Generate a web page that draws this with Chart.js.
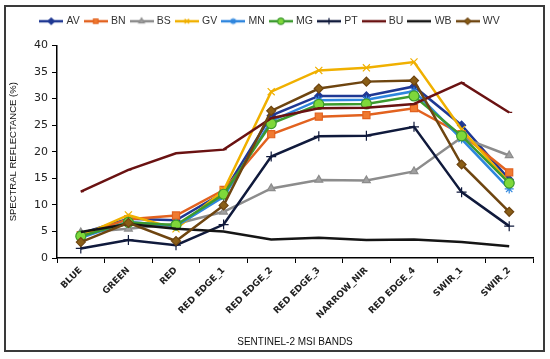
<!DOCTYPE html>
<html>
<head>
<meta charset="utf-8">
<script src="https://cdn.jsdelivr.net/npm/chart.js@4/dist/chart.umd.min.js"></script>
<style>
  body { margin: 0; background: #fff; }
  #wrap { position: relative; width: 550px; height: 359px; }
  #frame { position: absolute; left: 4px; top: 5px; width: 541px; height: 347px;
           border: 2px solid #3a3a3a; box-sizing: border-box; pointer-events: none; }
  canvas { position: absolute; left: 0; top: 0; }
</style>
</head>
<body>
<div id="wrap">
  <canvas id="spec-chart" width="550" height="359"></canvas>
  <div id="frame"></div>
</div>
<script>
let bands = ['BLUE', 'GREEN', 'RED', 'RED EDGE_1', 'RED EDGE_2', 'RED EDGE_3',
             'NARROW_NIR', 'RED EDGE_4', 'SWIR_1', 'SWIR_2'];

let av = [4.6, 7.4, 7.1, 12.3, 26.8, 30.5, 30.5, 32.3, 25.0, 14.8];
let bn = [4.3, 7.3, 8.0, 12.8, 23.3, 26.6, 26.9, 28.2, 23.3, 16.1];
let bs = [4.8, 5.5, 6.4, 8.7, 13.1, 14.7, 14.6, 16.3, 22.7, 19.3];
let gv = [4.1, 8.1, 5.5, 12.7, 31.3, 35.3, 35.8, 36.9, 24.2, 14.2];
let mn = [3.8, 6.8, 6.0, 11.5, 25.8, 29.7, 29.8, 31.4, 22.4, 13.0];
let mg = [4.1, 6.7, 6.2, 12.0, 25.3, 28.9, 29.0, 30.5, 23.0, 14.1];
let pt = [1.8, 3.4, 2.4, 6.3, 19.1, 22.9, 23.0, 24.7, 12.4, 6.0];
let bu = [12.5, 16.6, 19.7, 20.4, 26.3, 28.2, 28.3, 29.0, 33.0, 27.4];
let wb = [4.9, 6.4, 5.5, 5.0, 3.5, 3.8, 3.4, 3.5, 3.0, 2.2];
let wv = [3.0, 6.6, 3.2, 9.9, 27.7, 31.9, 33.2, 33.4, 17.6, 8.7];

let seriesNames = ['AV', 'BN', 'BS', 'GV', 'MN', 'MG', 'PT', 'BU', 'WB', 'WV'];
let seriesValues = [av, bn, bs, gv, mn, mg, pt, bu, wb, wv];
let lineColours = ['#1f3893', '#e2621f', '#8c8c8c', '#f0b000', '#2e86de', '#3c9a2e',
                   '#101a3c', '#6a1212', '#151515', '#6e4510'];
let fillColours = ['#1f3893', '#f07a30', '#a0a0a0', '#f0b000', '#2e86de', '#7ed83a',
                   '#101a3c', '#6a1212', '#151515', '#8a5e16'];
let markers = ['rectRot', 'rect', 'triangle', 'crossRot', 'star', 'circle',
               'cross', 'dash', false, 'rectRot'];
let markerSizes = [4, 5, 4.5, 5, 4.5, 5, 5, 3, 0, 4.5];

// little line+marker swatch for the legend, like excel
function swatch(i) {
  const c = document.createElement('canvas');
  c.width = 24; c.height = 12;
  const ctx = c.getContext('2d');
  ctx.strokeStyle = lineColours[i];
  ctx.lineWidth = 2.5;
  ctx.beginPath(); ctx.moveTo(0, 6); ctx.lineTo(24, 6); ctx.stroke();
  if (markers[i]) {
    ctx.fillStyle = fillColours[i];
    ctx.lineWidth = 1.2;
    Chart.helpers.drawPoint(ctx, {pointStyle: markers[i], radius: 3.2, rotation: 0, borderWidth: 1.2}, 12, 6);
  }
  return c;
}

let datasets = seriesNames.map((name, i) => ({
  label: name,
  data: seriesValues[i],
  borderColor: lineColours[i],
  backgroundColor: fillColours[i],
  borderWidth: 2.5,
  pointStyle: markers[i],
  pointRadius: markerSizes[i],
  pointBorderWidth: 1.2,
  pointBorderColor: lineColours[i],
  pointBackgroundColor: fillColours[i],
  tension: 0,
  order: seriesNames.length - i   // later series on top
}));

// push the plot down a bit below the legend
const legendGap = {
  id: 'legendGap',
  afterInit(chart) {
    const lg = chart.legend;
    if (!lg) return;
    const fit = lg.fit;
    lg.fit = function () { fit.call(this); this.height += 9; };
  }
};

window.addEventListener('DOMContentLoaded', () => {
  const box = document.getElementById('spec-chart');
  new Chart(box, {
    type: 'line',
    data: { labels: bands, datasets: datasets },
    options: {
      responsive: false,
      animation: false,
      devicePixelRatio: 1,
      layout: { padding: { left: 8, right: 17, top: 10, bottom: 0 } },
      plugins: {
        legend: {
          position: 'top',
          labels: {
            usePointStyle: true,
            pointStyleWidth: 20,
            boxHeight: 11,
            padding: 6,
            color: '#333',
            font: { family: 'Liberation Sans', size: 10.5 },
            generateLabels: (chart) => chart.data.datasets.map((ds, i) => ({
              text: ds.label,
              pointStyle: swatch(i),
              fillStyle: 'transparent',
              strokeStyle: 'transparent',
              lineWidth: 0,
              fontColor: '#333',
              datasetIndex: i
            }))
          }
        },
        tooltip: { enabled: false }
      },
      scales: {
        x: {
          offset: true,
          afterFit: (scale) => { scale.height = 101; },
          grid: { display: true, drawOnChartArea: false, tickLength: 5, color: '#000', offset: true },
          border: { display: true, color: '#000', width: 1.5 },
          ticks: {
            minRotation: 45, maxRotation: 45, padding: 2, color: '#222',
            font: { family: 'DejaVu Sans', size: 9, weight: 'bold' }
          },
          title: {
            display: true, text: 'SENTINEL-2 MSI BANDS', color: '#111',
            font: { family: 'Liberation Sans', size: 10 },
            padding: { top: 0, bottom: 11 }
          }
        },
        y: {
          min: 0, max: 40,
          afterFit: (scale) => { scale.width = 49; },
          grid: { display: true, drawOnChartArea: false, tickLength: 5, color: '#000' },
          border: { display: true, color: '#000', width: 1.5 },
          ticks: {
            stepSize: 5, padding: 4, color: '#222',
            font: { family: 'DejaVu Sans', size: 11 }
          },
          title: {
            display: true, text: 'SPECTRAL REFLECTANCE (%)', color: '#111',
            font: { family: 'Liberation Sans', size: 9.5 },
            padding: { top: 0, bottom: 0 }
          }
        }
      }
    },
    plugins: [legendGap]
  });
});
</script>
</body>
</html>
